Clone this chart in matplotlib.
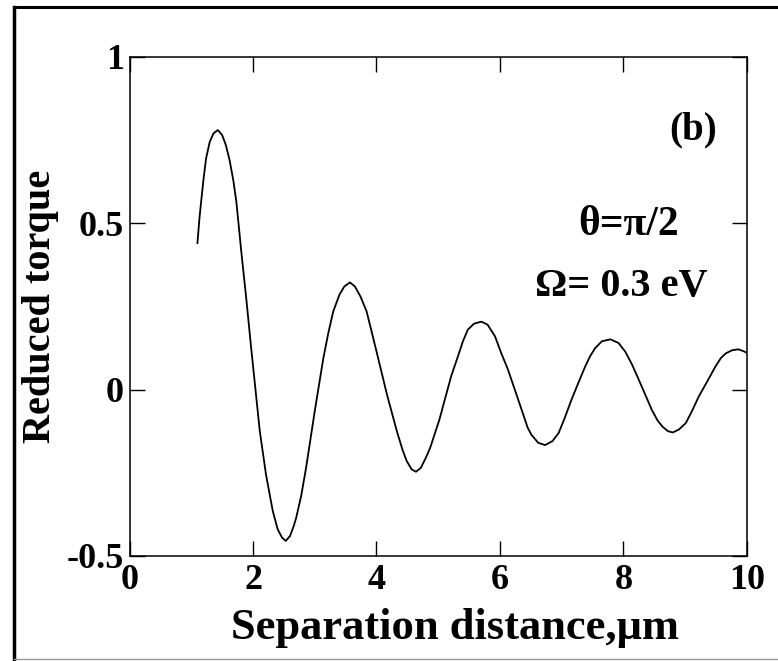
import matplotlib
matplotlib.use("Agg")
import matplotlib.pyplot as plt
from matplotlib.lines import Line2D

plt.rcParams['font.family'] = ['Liberation Serif', 'DejaVu Serif']
plt.rcParams['font.weight'] = 'bold'

# separation distance (um) and reduced torque
dist = [1.10, 1.13, 1.16, 1.20, 1.24, 1.30, 1.36, 1.43, 1.50, 1.56, 1.62, 1.68,
        1.73, 1.81, 1.89, 1.97, 2.04, 2.11, 2.21, 2.32, 2.40, 2.47, 2.53, 2.60,
        2.66, 2.70, 2.78, 2.86, 3.00, 3.14, 3.22, 3.30, 3.40, 3.48, 3.57, 3.65,
        3.74, 3.84, 4.00, 4.17, 4.33, 4.42, 4.49, 4.57, 4.64, 4.72, 4.80, 4.87,
        5.02, 5.10, 5.21, 5.32, 5.40, 5.48, 5.58, 5.70, 5.80, 5.92, 6.02, 6.13,
        6.24, 6.35, 6.45, 6.51, 6.62, 6.73, 6.85, 6.95, 7.05, 7.16, 7.27, 7.38,
        7.46, 7.54, 7.65, 7.79, 7.92, 8.03, 8.14, 8.25, 8.36, 8.46, 8.55, 8.63,
        8.72, 8.80, 8.90, 9.01, 9.11, 9.22, 9.36, 9.49, 9.58, 9.66, 9.76, 9.86,
        9.95, 10.0]
torque = [0.44, 0.51, 0.565, 0.635, 0.695, 0.745, 0.77, 0.78, 0.765, 0.735, 0.69, 0.63,
          0.565, 0.415, 0.275, 0.125, 0.0, -0.125, -0.255, -0.365, -0.42, -0.445, -0.455, -0.44,
          -0.41, -0.385, -0.32, -0.235, -0.065, 0.095, 0.17, 0.235, 0.285, 0.31, 0.322, 0.31,
          0.28, 0.235, 0.115, -0.015, -0.125, -0.18, -0.215, -0.24, -0.247, -0.235, -0.205, -0.175,
          -0.09, -0.035, 0.04, 0.10, 0.145, 0.18, 0.198, 0.204, 0.195, 0.16, 0.11, 0.06,
          0.0, -0.06, -0.115, -0.136, -0.16, -0.167, -0.155, -0.131, -0.085, -0.03, 0.02, 0.069,
          0.10, 0.124, 0.145, 0.151, 0.14, 0.114, 0.075, 0.029, -0.018, -0.061, -0.092, -0.111,
          -0.125, -0.129, -0.12, -0.101, -0.065, -0.021, 0.025, 0.069, 0.095, 0.109, 0.118, 0.121,
          0.115, 0.11]

xticks = [0, 2, 4, 6, 8, 10]
yticks = [-0.5, 0, 0.5, 1]
ytick_labels = ["-0.5", "0", "0.5", "1"]

fig = plt.figure(figsize=(7.78, 6.61), dpi=100)
ax = fig.add_axes([0.1665, 0.159, 0.7935, 0.755])

ax.plot(dist, torque, color="black", linewidth=1.3)

ax.set_xlim(0, 10)
ax.set_ylim(-0.5, 1)
ax.set_xticks(xticks)
ax.set_xticklabels([str(t) for t in xticks])
ax.set_yticks(yticks)
ax.set_yticklabels(ytick_labels)
ax.tick_params(direction="in", length=11, width=1, top=True, right=True,
               labelsize=26, pad=4)
ax.tick_params(axis="x", pad=6)
for s in ax.spines.values():
    s.set_linewidth(1.1)

ax.set_xlabel("Separation distance,\u03bcm", fontsize=32, fontweight="bold")
ax.xaxis.set_label_coords(0.527, -0.104)
ax.set_ylabel("Reduced torque", fontsize=29, fontweight="bold")
ax.yaxis.set_label_coords(-0.115, 0.5)

ax.text(9.13, 0.78, "(b)", fontsize=28, fontweight="bold", ha="center", va="center")
ax.text(8.09, 0.494, "\u03b8=\u03c0/2", fontsize=30, fontweight="bold", ha="center", va="center")
ax.text(7.96, 0.311, "\u03a9= 0.3 eV", fontsize=29, fontweight="bold", ha="center", va="center")

# frame around the whole picture (right side is cut off in the original)
x0 = 14 / 778
ytop = 1 - 7 / 661
ybot = 1 - 659 / 661
fig.add_artist(Line2D([x0, x0], [ybot, ytop], color="black", linewidth=2.5))
fig.add_artist(Line2D([x0, 1], [ytop, ytop], color="black", linewidth=2.2))
fig.add_artist(Line2D([x0, 1], [ybot, ybot], color="#999999", linewidth=1))

fig.savefig("out.png", dpi=100)
